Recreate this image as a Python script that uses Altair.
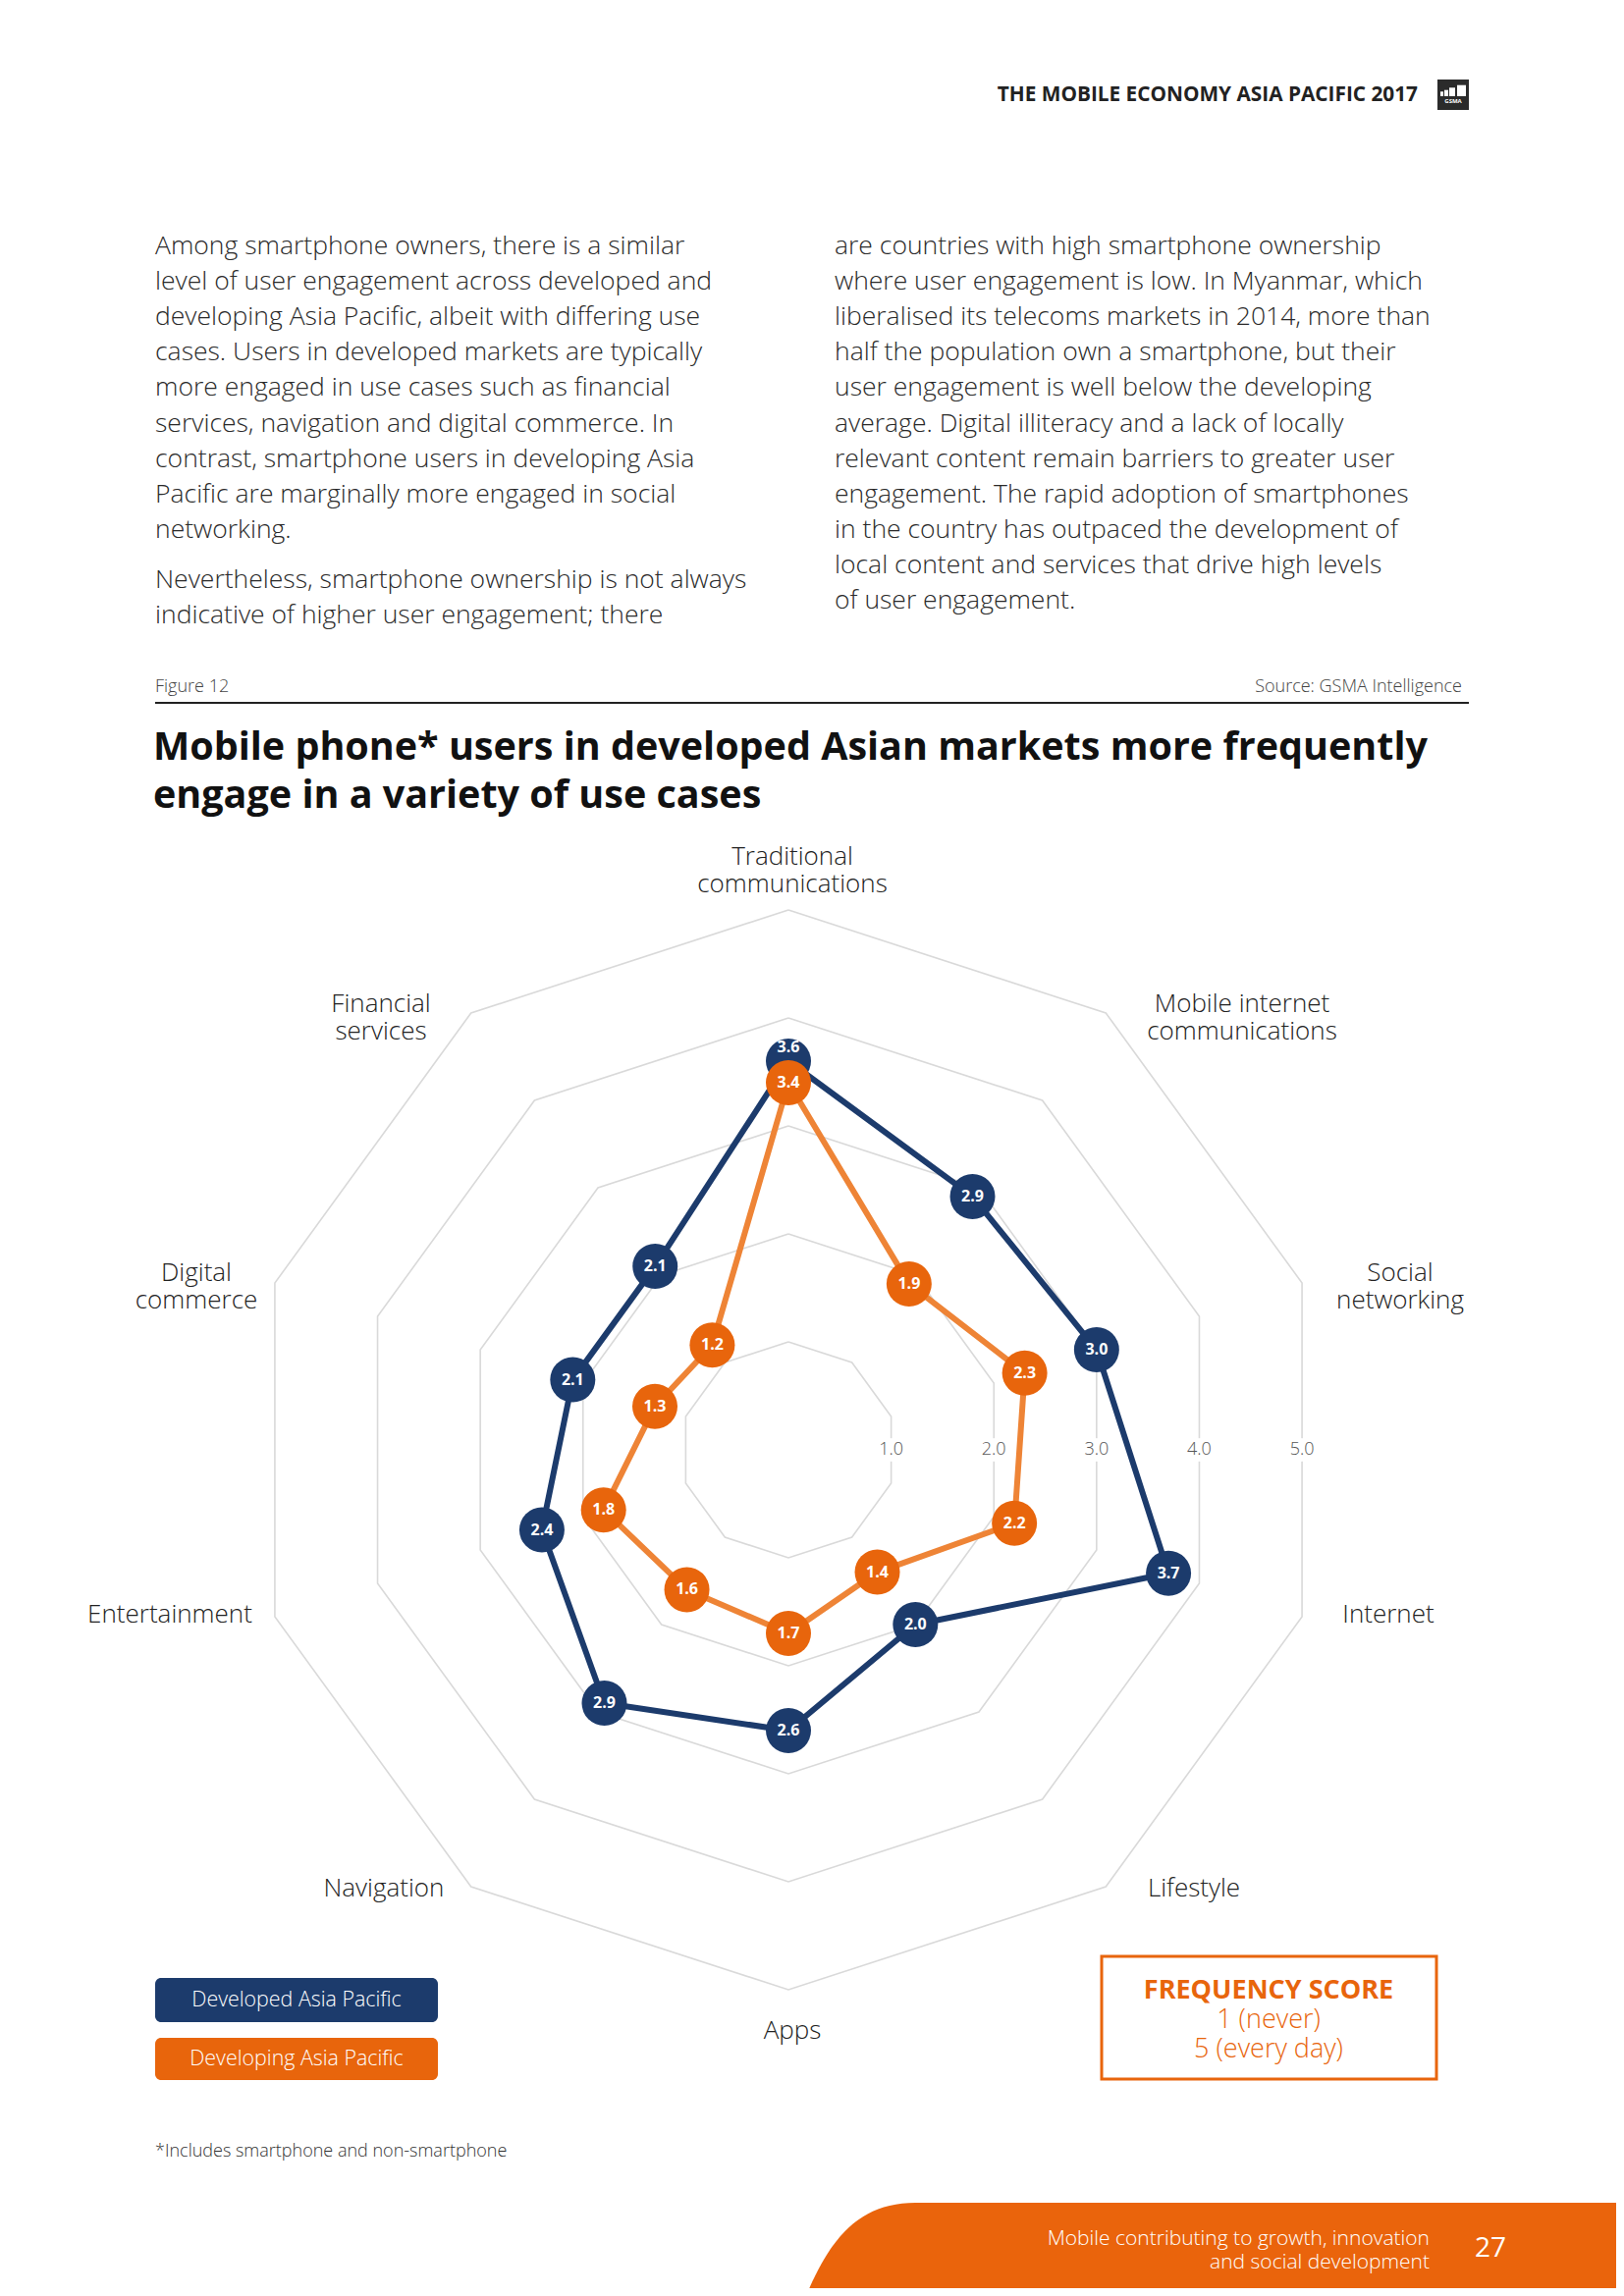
import math
import altair as alt
import pandas as pd

# ---------------- data ----------------
categories = [
    "Traditional communications", "Mobile internet communications", "Social networking",
    "Internet", "Lifestyle", "Apps", "Navigation", "Entertainment",
    "Digital commerce", "Financial services",
]
category_labels = [
    "Traditional\ncommunications", "Mobile internet\ncommunications", "Social\nnetworking",
    "Internet", "Lifestyle", "Apps", "Navigation", "Entertainment",
    "Digital\ncommerce", "Financial\nservices",
]
series_names = ["Developed Asia Pacific", "Developing Asia Pacific"]
developed = [3.6, 2.9, 3.0, 3.7, 2.0, 2.6, 2.9, 2.4, 2.1, 2.1]
developing = [3.4, 1.9, 2.3, 2.2, 1.4, 1.7, 1.6, 1.8, 1.3, 1.2]
ring_levels = [1.0, 2.0, 3.0, 4.0, 5.0]
ring_tick_labels = ["1.0", "2.0", "3.0", "4.0", "5.0"]

BLUE = "#1c3b6c"
ORANGE = "#e8650c"
ORANGE_LINE = "#ee8436"
GRID = "#d9d9d9"
FONT = "Open Sans"

# ---------------- layout (page px) ----------------
W, H = 1638, 2323
OFF = 8  # page margin
CX, CY, UNIT = 803 - OFF, 1477 - OFF, 110.0
DOT = 46  # marker diameter, px
xdom = [(0 - CX) / UNIT, (W - CX) / UNIT]
ydom = [(CY - H) / UNIT, CY / UNIT]
xs = alt.Scale(domain=xdom, nice=False, zero=False)
ys = alt.Scale(domain=ydom, nice=False, zero=False)

n = len(categories)
angles = [2 * math.pi * i / n for i in range(n)]

# grid rings
ring_rows = []
for lv in ring_levels:
    for i in range(n + 1):
        a = angles[i % n]
        ring_rows.append({"level": lv, "idx": i, "x": lv * math.sin(a), "y": lv * math.cos(a)})
rings = pd.DataFrame(ring_rows)

def series_df(name, vals, other):
    rows = []
    for i in range(n + 1):
        a = angles[i % n]
        v = vals[i % n]
        # nudge a label outward when the other series' marker sits on top of this one
        gap = abs(v - other[i % n]) * UNIT
        shift = 0.0
        if v > other[i % n] and gap < DOT:
            shift = 0.6 * (DOT - gap)
        rows.append({"series": name, "idx": i, "x": v * math.sin(a), "y": v * math.cos(a),
                     "lx": (v + shift / UNIT) * math.sin(a), "ly": (v + shift / UNIT) * math.cos(a),
                     "value": v, "label": f"{v:.1f}", "last": i == n})
    return pd.DataFrame(rows)

dev = series_df(series_names[0], developed, developing)
dvg = series_df(series_names[1], developing, developed)

ticks = pd.DataFrame({
    "x": [lv * math.cos(math.pi / n) for lv in ring_levels],
    "y": [0.0] * len(ring_levels),
    "t": ring_tick_labels,
})

# category label block centres (page px, layout only)
LABEL_LH = 28
label_pos = [(807, 887), (1265, 1037), (1426, 1311), (1414, 1645), (1216, 1924),
             (807, 2069), (391, 1924), (173, 1645), (200, 1311), (388, 1037)]
cat_df = pd.DataFrame({
    "t": category_labels,
    "px": [p[0] - OFF for p in label_pos],
    "py": [p[1] - OFF - (lab.count("\n")) * LABEL_LH / 2 for p, lab in zip(label_pos, category_labels)],
})

X = lambda f: alt.X(f, scale=xs, axis=None)
Y = lambda f: alt.Y(f, scale=ys, axis=None)

layers = []

# grid
layers.append(alt.Chart(rings).mark_line(color=GRID, strokeWidth=1.6).encode(
    x=X("x:Q"), y=Y("y:Q"), detail="level:N", order="idx:Q"))

# white backs for tick labels
layers.append(alt.Chart(ticks).mark_point(shape="square", filled=True, color="white", size=560, opacity=1).encode(
    x=X("x:Q"), y=Y("y:Q")))
layers.append(alt.Chart(ticks).mark_text(font=FONT, fontSize=18, fontWeight=300, color="#555555",
                                         baseline="middle", align="center").encode(
    x=X("x:Q"), y=Y("y:Q"), text="t:N"))

for df, lc, pc in [(dev, BLUE, BLUE), (dvg, ORANGE_LINE, ORANGE)]:
    layers.append(alt.Chart(df).mark_line(color=lc, strokeWidth=6, strokeJoin="round").encode(
        x=X("x:Q"), y=Y("y:Q"), order="idx:Q"))
    pts = df[~df["last"]]
    layers.append(alt.Chart(pts).mark_point(shape="circle", filled=True, color=pc, size=DOT * DOT, opacity=1).encode(
        x=X("x:Q"), y=Y("y:Q")))
    layers.append(alt.Chart(pts).mark_text(font=FONT, fontSize=16, fontWeight="bold", color="white",
                                           baseline="middle", align="center").encode(
        x=X("lx:Q"), y=Y("ly:Q"), text="label:N"))

# category labels
layers.append(alt.Chart(cat_df).mark_text(font=FONT, fontSize=26, fontWeight=300, color="#222222",
                                          align="center", baseline="middle", lineBreak="\n",
                                          lineHeight=LABEL_LH).encode(
    x=alt.X("px:Q", scale=None), y=alt.Y("py:Q", scale=None), text="t:N"))

one = pd.DataFrame({"a": [0]})

def txt(s, x, y, size, weight=300, color="#222222", align="left", font=FONT):
    return alt.Chart(one).mark_text(text=s, font=font, fontSize=size, fontWeight=weight, color=color,
                                    align=align, baseline="middle").encode(
        x=alt.value(x - OFF), y=alt.value(y - OFF))

def rect(x1, y1, x2, y2, **kw):
    return alt.Chart(one).mark_rect(**kw).encode(
        x=alt.value(x1 - OFF), x2=alt.value(x2 - OFF), y=alt.value(y1 - OFF), y2=alt.value(y2 - OFF))

# header
layers.append(txt("THE MOBILE ECONOMY ASIA PACIFIC 2017", 1444, 97, 20.8, weight="bold", color="#222222", align="right"))
layers.append(rect(1464, 81, 1496, 112, color="#2b2b2b"))
for (bx1, bt, bx2) in [(1467, 93.3, 1470), (1471, 91.7, 1475), (1476, 89.3, 1482), (1484, 86.7, 1493)]:
    layers.append(rect(bx1, bt, bx2, 98, color="white"))
layers.append(txt("GSMA", 1480, 103, 6, weight="bold", color="white", align="center"))

# body text
left_col = [
    "Among smartphone owners, there is a similar",
    "level of user engagement across developed and",
    "developing Asia Pacific, albeit with differing use",
    "cases. Users in developed markets are typically",
    "more engaged in use cases such as financial",
    "services, navigation and digital commerce. In",
    "contrast, smartphone users in developing Asia",
    "Pacific are marginally more engaged in social",
    "networking.",
]
left_col2 = [
    "Nevertheless, smartphone ownership is not always",
    "indicative of higher user engagement; there",
]
right_col = [
    "are countries with high smartphone ownership",
    "where user engagement is low. In Myanmar, which",
    "liberalised its telecoms markets in 2014, more than",
    "half the population own a smartphone, but their",
    "user engagement is well below the developing",
    "average. Digital illiteracy and a lack of locally",
    "relevant content remain barriers to greater user",
    "engagement. The rapid adoption of smartphones",
    "in the country has outpaced the development of",
    "local content and services that drive high levels",
    "of user engagement.",
]
LS = 36.1
BODY = 26.5
for i, s in enumerate(left_col):
    layers.append(txt(s, 158, 251 + i * LS, BODY, color="#2a2a2a"))
for i, s in enumerate(left_col2):
    layers.append(txt(s, 158, 591 + i * LS, BODY, color="#2a2a2a"))
for i, s in enumerate(right_col):
    layers.append(txt(s, 850, 251 + i * LS, BODY, color="#2a2a2a"))

# figure caption + rule
layers.append(txt("Figure 12", 158, 700, 18, color="#444444"))
layers.append(txt("Source: GSMA Intelligence", 1489, 700, 18, color="#444444", align="right"))
layers.append(alt.Chart(one).mark_rule(color="#222222", strokeWidth=2).encode(
    x=alt.value(158 - OFF), x2=alt.value(1496 - OFF), y=alt.value(716 - OFF)))

# title
layers.append(txt("Mobile phone* users in developed Asian markets more frequently", 156, 762, 39.5, weight="bold", color="#111111"))
layers.append(txt("engage in a variety of use cases", 156, 811, 39.5, weight="bold", color="#111111"))

# legend
layers.append(rect(158, 2015, 446, 2060, color=BLUE, cornerRadius=6))
layers.append(rect(158, 2076, 446, 2119, color=ORANGE, cornerRadius=6))
layers.append(txt(series_names[0], 302, 2038, 21.4, weight=300, color="white", align="center"))
layers.append(txt(series_names[1], 302, 2098, 21.4, weight=300, color="white", align="center"))

# frequency score box
layers.append(rect(1122, 1993, 1463, 2118, fill="white", stroke=ORANGE, strokeWidth=3))
layers.append(txt("FREQUENCY SCORE", 1292, 2028, 27, weight="bold", color=ORANGE, align="center"))
layers.append(txt("1 (never)", 1292, 2058, 27, weight=300, color=ORANGE, align="center"))
layers.append(txt("5 (every day)", 1292, 2088, 27, weight=300, color=ORANGE, align="center"))

# footnote
layers.append(txt("*Includes smartphone and non-smartphone", 158, 2192, 18, color="#333333"))

# footer shape
FOOT_PATH = "M -0.99 0.13 C -0.93 -0.02, -0.86 -0.11, -0.72 -0.11 L 1 -0.11 L 1 0.13 Z"
layers.append(alt.Chart(one).mark_point(shape=FOOT_PATH, filled=True, color="#ea640c", opacity=1,
                                        size=846 * 846, strokeWidth=0).encode(
    x=alt.value(1237 - OFF), y=alt.value(2290.5 - OFF)))
layers.append(txt("Mobile contributing to growth, innovation", 1456, 2281, 21, color="white", align="right"))
layers.append(txt("and social development", 1456, 2305, 21, color="white", align="right"))
layers.append(txt("27", 1518, 2291, 28, weight=400, color="white", align="center"))

chart = alt.layer(*layers).properties(
    width=W, height=H, padding=0, autosize=alt.AutoSizeParams(type="none")
).configure_view(stroke=None)

chart.save("out.html", embed_options={"renderer": "svg", "actions": False})
